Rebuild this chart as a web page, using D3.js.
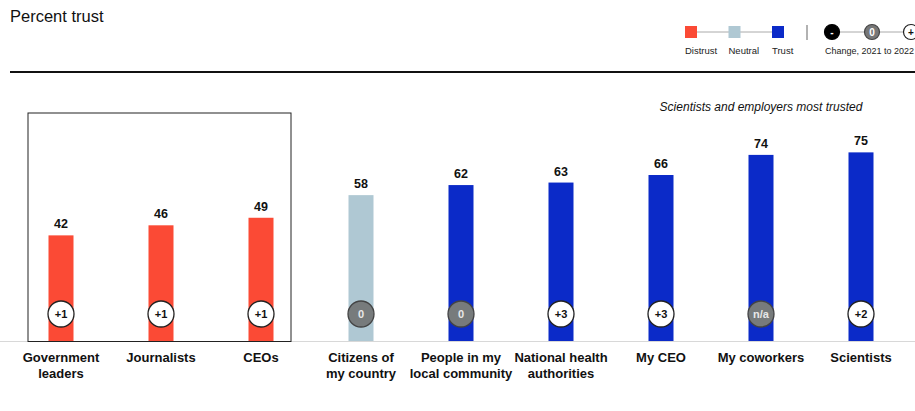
<!DOCTYPE html>
<html><head><meta charset="utf-8">
<script src="https://cdn.jsdelivr.net/npm/d3@7"></script>
<style>body{margin:0;background:#fff;}svg{display:block;font-family:"Liberation Sans",Arial,sans-serif;}</style>
</head><body>
<svg id="c" width="915" height="411"></svg>
<script>
const categories = [["Government","leaders"],["Journalists"],["CEOs"],["Citizens of","my country"],["People in my","local community"],["National health","authorities"],["My CEO"],["My coworkers"],["Scientists"]];
const values = [42,46,49,58,62,63,66,74,75];
const groups = ["Distrust","Distrust","Distrust","Neutral","Trust","Trust","Trust","Trust","Trust"];
const changes = ["+1","+1","+1","0","0","+3","+3","n/a","+2"];
const legendItems = ["Distrust","Neutral","Trust"];

const colors = {Distrust:"#fb4a35", Neutral:"#afc8d3", Trust:"#0b2ac8"};
const svg = d3.select("#c");
const ids = categories.map((c,i)=>i);
const x = d3.scalePoint().domain(ids).range([61,861]);
const y = d3.scaleLinear().domain([0,100]).range([341,89.5]);
const bw = 25;

// title
svg.append("text").attr("x",10).attr("y",22).attr("font-size",16.5).attr("fill","#111").text("Percent trust");
// top rule
svg.append("line").attr("x1",10).attr("x2",915).attr("y1",72).attr("y2",72).attr("stroke","#111").attr("stroke-width",2);

// legend
const lx = d3.scalePoint().domain(legendItems).range([691,778]);
svg.append("line").attr("x1",lx("Distrust")).attr("x2",lx("Trust")).attr("y1",32).attr("y2",32).attr("stroke","#aaa").attr("stroke-width",1);
legendItems.forEach(k=>{
  svg.append("rect").attr("x",lx(k)-6).attr("y",26).attr("width",12).attr("height",12).attr("fill",colors[k]);
  svg.append("text").attr("x",lx(k)-6).attr("y",54).attr("font-size",9.5).attr("fill","#222").text(k);
});
svg.append("line").attr("x1",807).attr("x2",807).attr("y1",25).attr("y2",40).attr("stroke","#999").attr("stroke-width",1.5);
const legChg = [{x:832,fill:"#000",stroke:"#000",t:"-",tc:"#fff"},{x:872,fill:"#777",stroke:"#444",t:"0",tc:"#fff"},{x:911,fill:"#fff",stroke:"#222",t:"+",tc:"#111"}];
svg.append("line").attr("x1",832).attr("x2",911).attr("y1",32).attr("y2",32).attr("stroke","#aaa");
legChg.forEach(d=>{
  svg.append("circle").attr("cx",d.x).attr("cy",32).attr("r",7.5).attr("fill",d.fill).attr("stroke",d.stroke).attr("stroke-width",1.2);
  svg.append("text").attr("x",d.x).attr("y",35.5).attr("text-anchor","middle").attr("font-size",10).attr("font-weight","bold").attr("fill",d.tc).text(d.t);
});
svg.append("text").attr("x",825).attr("y",54).attr("font-size",9).attr("fill","#222").text("Change, 2021 to 2022");

// annotation
svg.append("text").attr("x",761).attr("y",111).attr("text-anchor","middle").attr("font-size",12).attr("font-style","italic").attr("fill","#111").text("Scientists and employers most trusted");

// baseline
svg.append("line").attr("x1",0).attr("x2",915).attr("y1",341.5).attr("y2",341.5).attr("stroke","#d8d8d8").attr("stroke-width",1);

// bars
svg.selectAll("rect.bar").data(ids).join("rect").attr("class","bar")
  .attr("x",i=>x(i)-bw/2).attr("width",bw)
  .attr("y",i=>y(values[i])).attr("height",i=>y(0)-y(values[i]))
  .attr("fill",i=>colors[groups[i]]);

// box around distrust
svg.append("rect").attr("x",28).attr("y",113).attr("width",263).attr("height",228.5).attr("fill","none").attr("stroke","#222").attr("stroke-width",1);

// value labels
svg.selectAll("text.val").data(ids).join("text").attr("class","val")
  .attr("x",i=>x(i)).attr("y",i=>y(values[i])-7).attr("text-anchor","middle")
  .attr("font-size",12.5).attr("font-weight","bold").attr("fill","#111").text(i=>values[i]);

// change circles
const gray = c => c==="0"||c==="n/a";
svg.selectAll("circle.chg").data(ids).join("circle").attr("class","chg")
  .attr("cx",i=>x(i)).attr("cy",314).attr("r",13)
  .attr("fill",i=>gray(changes[i])?"#777b7c":"#fff")
  .attr("stroke",i=>gray(changes[i])?"#444":"#222").attr("stroke-width",1.3);
svg.selectAll("text.chg").data(ids).join("text").attr("class","chg")
  .attr("x",i=>x(i)).attr("y",318).attr("text-anchor","middle")
  .attr("font-size",11).attr("font-weight","bold")
  .attr("fill",i=>gray(changes[i])?"#e8e8e8":"#111").text(i=>changes[i]);

// category labels
const lab = svg.selectAll("text.cat").data(ids).join("text").attr("class","cat")
  .attr("text-anchor","middle").attr("font-size",13).attr("font-weight","bold").attr("fill","#111");
lab.each(function(i){
  const t = d3.select(this);
  categories[i].forEach((line,k)=>{
    t.append("tspan").attr("x",x(i)).attr("y",362+k*16).text(line);
  });
});
</script>
</body></html>
